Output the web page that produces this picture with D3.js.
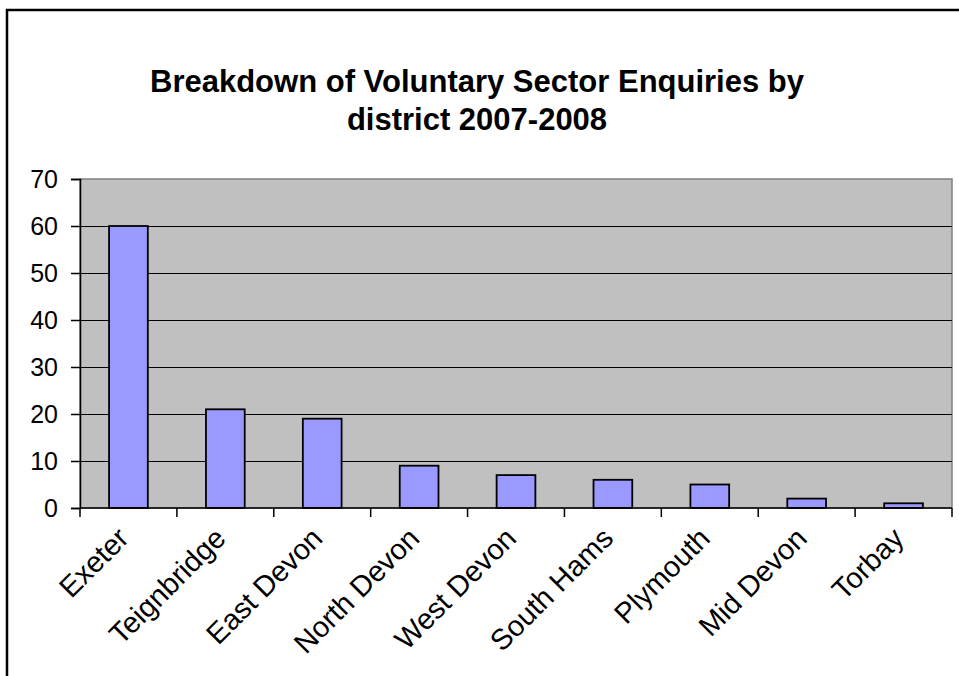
<!DOCTYPE html>
<html>
<head>
<meta charset="utf-8">
<script src="https://cdn.jsdelivr.net/npm/d3@7"></script>
<style>
  html, body { margin: 0; padding: 0; background: #fff; overflow: hidden; }
  svg { display: block; font-family: "Liberation Sans", Arial, sans-serif; }
</style>
</head>
<body>
<svg id="chart" width="959" height="676"></svg>
<script>
const titleLines = ["Breakdown of Voluntary Sector Enquiries by", "district 2007-2008"];
const categories = ["Exeter", "Teignbridge", "East Devon", "North Devon", "West Devon", "South Hams", "Plymouth", "Mid Devon", "Torbay"];
const values = [60, 21, 19, 9, 7, 6, 5, 2, 1];
const yTicks = [0, 10, 20, 30, 40, 50, 60, 70];

const svg = d3.select("#chart");
const W = 959, H = 676;
const plot = { left: 80, right: 952, top: 179, bottom: 508 };

// Outer chart border (extends past window right/bottom)
svg.append("rect")
  .attr("x", 7).attr("y", 10)
  .attr("width", W + 20).attr("height", H + 20)
  .attr("fill", "#fff").attr("stroke", "#000").attr("stroke-width", 2.5);

// Title
svg.append("text")
  .attr("x", 477).attr("y", 92)
  .attr("text-anchor", "middle")
  .attr("font-size", 31).attr("font-weight", "bold").attr("fill", "#000")
  .selectAll("tspan").data(titleLines).join("tspan")
  .attr("x", 477).attr("dy", (d, i) => i === 0 ? 0 : 38)
  .text(d => d);

const x = d3.scaleBand().domain(categories).range([plot.left, plot.right]).padding(0);
const y = d3.scaleLinear().domain([0, 70]).range([plot.bottom, plot.top]);

// Plot area
svg.append("rect")
  .attr("x", plot.left).attr("y", plot.top)
  .attr("width", plot.right - plot.left).attr("height", plot.bottom - plot.top)
  .attr("fill", "#c0c0c0").attr("stroke", "#808080").attr("stroke-width", 1.5);

// Gridlines
svg.append("g").selectAll("line").data(yTicks.filter(t => t > 0 && t < 70)).join("line")
  .attr("x1", plot.left).attr("x2", plot.right)
  .attr("y1", d => Math.round(y(d)) + 0.5).attr("y2", d => Math.round(y(d)) + 0.5)
  .attr("stroke", "#000").attr("stroke-width", 1);

// Bars
const bw = x.step() * 0.4;
svg.append("g").selectAll("rect").data(values).join("rect")
  .attr("x", (d, i) => x(categories[i]) + (x.step() - bw) / 2)
  .attr("y", d => y(d))
  .attr("width", bw)
  .attr("height", d => y(0) - y(d))
  .attr("fill", "#9999ff").attr("stroke", "#000").attr("stroke-width", 1.8);

// Y axis
const yAxis = svg.append("g").attr("transform", `translate(${plot.left},0)`)
  .call(d3.axisLeft(y).tickValues(yTicks).tickSize(9).tickPadding(13).tickFormat(d3.format("d")));
yAxis.select(".domain").attr("stroke", "#000").attr("stroke-width", 1.5);
yAxis.selectAll(".tick line").attr("stroke", "#000").attr("stroke-width", 1.5);
yAxis.selectAll(".tick text").attr("font-size", 25).attr("fill", "#000")
  .attr("font-family", "'Liberation Sans', Arial, sans-serif");

// X axis line and ticks at category boundaries
const bounds = categories.map(c => x(c)).concat([plot.right]);
svg.append("line")
  .attr("x1", plot.left).attr("x2", plot.right)
  .attr("y1", plot.bottom).attr("y2", plot.bottom)
  .attr("stroke", "#000").attr("stroke-width", 1.5);
svg.append("g").selectAll("line").data(bounds).join("line")
  .attr("x1", d => d).attr("x2", d => d)
  .attr("y1", plot.bottom).attr("y2", plot.bottom + 9)
  .attr("stroke", "#000").attr("stroke-width", 1.5);

// X labels rotated
svg.append("g").selectAll("text").data(categories).join("text")
  .attr("transform", d => `translate(${x(d) + x.step() / 2 + 2},${plot.bottom + 32}) rotate(-45)`)
  .attr("text-anchor", "end")
  .attr("font-size", 29).attr("fill", "#000")
  .text(d => d);
</script>
</body>
</html>
